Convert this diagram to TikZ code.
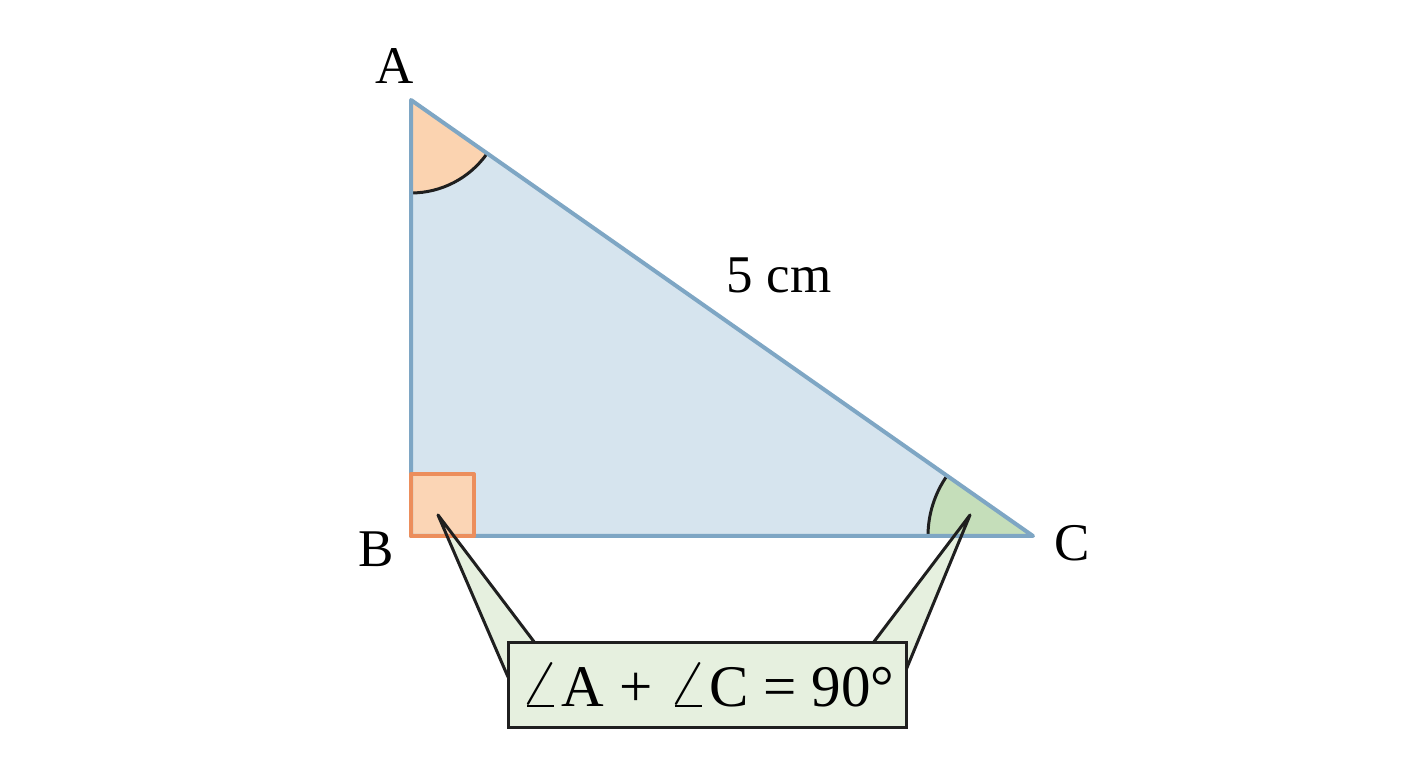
\documentclass[tikz,border=0pt]{standalone}
\usepackage{graphicx}
\usepackage{fontspec}
\setmainfont{Liberation Serif}
\definecolor{triFill}{HTML}{D6E4EE}
\definecolor{triLine}{HTML}{7EA6C4}
\definecolor{sqFill}{HTML}{FBD5B5}
\definecolor{sqLine}{HTML}{EC8E5C}
\definecolor{angA}{HTML}{FBD3B0}
\definecolor{angC}{HTML}{C5DEBA}
\definecolor{calloutFill}{HTML}{E6F0DF}
\newcommand{\bigang}{\scalebox{6.6}{\fontsize{10}{12}\selectfont$\angle$}}
\tikzset{
  lbl/.style={font=\fontsize{53}{60}\selectfont, inner sep=0pt},
  tailline/.style={draw=black!88, line width=3pt, line join=round},
  arcline/.style={draw=black!88, line width=3pt},
}
\begin{document}
\begin{tikzpicture}[x=1pt,y=1pt]
\useasboundingbox (0,0) rectangle (1408,768);
\fill[white] (0,0) rectangle (1408,768);
% vertices
\coordinate (A) at (411,668);
\coordinate (B) at (411,232);
\coordinate (C) at (1033,232);
\coordinate (tipL) at (438,253);
\coordinate (tipR) at (970,253);
\coordinate (bL1) at (535,125);
\coordinate (bL2) at (508,91);
\coordinate (bR1) at (873,125);
\coordinate (bR2) at (906,98);
% callout tail fills
\fill[calloutFill] (tipL) -- (bL1) -- (bL2) -- cycle;
\fill[calloutFill] (tipR) -- (bR1) -- (bR2) -- cycle;
% triangle
\fill[triFill] (A) -- (B) -- (C) -- cycle;
% angle A
\fill[angA] (A) -- ++(-90:93) arc[start angle=-90, end angle=-35, radius=93] -- cycle;
\draw[arcline] (A) ++(-90:93) arc[start angle=-90, end angle=-35, radius=93];
% angle C
\fill[angC] (C) -- ++(180:105) arc[start angle=180, end angle=145, radius=105] -- cycle;
\draw[arcline] (C) ++(180:105) arc[start angle=180, end angle=145, radius=105];
% right angle square
\fill[sqFill] (B) rectangle ++(63,62);
% triangle outline
\draw[triLine, line width=4pt, line join=round] (A) -- (B) -- (C) -- cycle;
\draw[sqLine, line width=4pt, line join=round] (B) -- ++(63,0) -- ++(0,62) -- ++(-63,0) -- cycle;
% tail lines
\draw[tailline] (bL2) -- (tipL) -- (bL1);
\draw[tailline] (bR2) -- (tipR) -- (bR1);
% box
\node[draw=black!88, line width=3pt, fill=calloutFill, minimum width=398pt, minimum height=85pt, inner sep=0pt,
      font=\fontsize{59}{66}\selectfont] (box) at (707,82.5) {\bigang A + \bigang C = 90°};
% labels
\node[lbl] (lA) at (395,702) {A};
\node[lbl] (lB) at (376,219) {B};
\node[lbl] (lC) at (1072,225) {C};
\node[lbl] (len) at (779,493) {5 cm};
\end{tikzpicture}
\end{document}
